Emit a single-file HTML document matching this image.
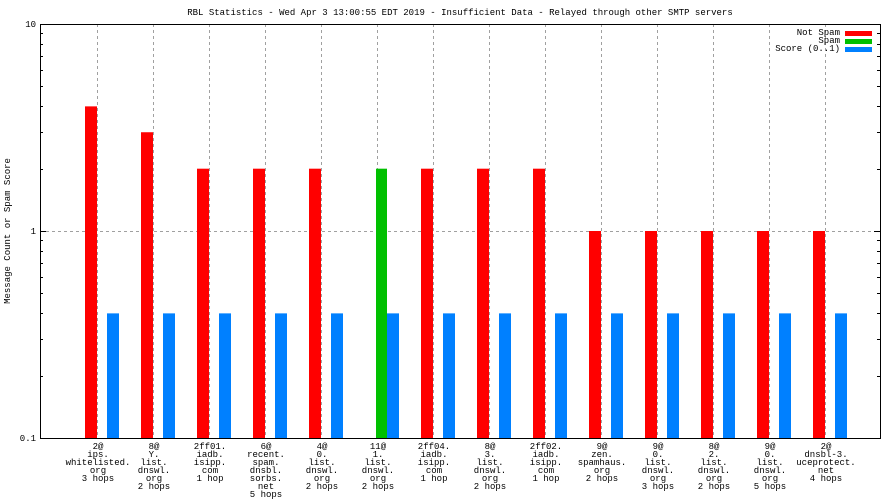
<!DOCTYPE html>
<html><head><meta charset="utf-8"><style>
html,body{margin:0;padding:0;background:#fff;}
svg{display:block;font-family:"Liberation Mono","DejaVu Sans Mono",monospace;}
</style></head><body>
<svg id="chart" width="896" height="504" viewBox="0 0 896 504" xmlns="http://www.w3.org/2000/svg">
<rect width="896" height="504" fill="#fff"/>
<text x="460" y="15" font-size="9" text-anchor="middle">RBL Statistics - Wed Apr  3 13:00:55 EDT 2019 - Insufficient Data - Relayed through other SMTP servers</text>
<text transform="translate(10,231) rotate(-90)" font-size="9" text-anchor="middle">Message Count or Spam Score</text>
<g id="grid"></g><g id="bars"></g><g id="axes"></g><g id="labels"></g>
<g font-size="9" text-anchor="end">
<text x="840" y="35">Not Spam</text>
<rect x="845" y="31" width="27" height="5" fill="#ff0000"/>
<text x="840" y="43">Spam</text>
<rect x="845" y="39" width="27" height="5" fill="#00c000"/>
<text x="840" y="51">Score (0..1)</text>
<rect x="845" y="47" width="27" height="5" fill="#0080ff"/>
</g>
</svg>
<script>
const categories=[["2@","ips.","whitelisted.","org","3 hops"],["8@","Y.","list.","dnswl.","org","2 hops"],["2ff01.","iadb.","isipp.","com","1 hop"],["6@","recent.","spam.","dnsbl.","sorbs.","net","5 hops"],["4@","0.","list.","dnswl.","org","2 hops"],["11@","1.","list.","dnswl.","org","2 hops"],["2ff04.","iadb.","isipp.","com","1 hop"],["8@","3.","list.","dnswl.","org","2 hops"],["2ff02.","iadb.","isipp.","com","1 hop"],["9@","zen.","spamhaus.","org","2 hops"],["9@","0.","list.","dnswl.","org","3 hops"],["8@","2.","list.","dnswl.","org","2 hops"],["9@","0.","list.","dnswl.","org","5 hops"],["2@","dnsbl-3.","uceprotect.","net","4 hops"]];
const notSpam=[4,3,2,2,2,0,2,2,2,1,1,1,1,1];
const spam=[0,0,0,0,0,2,0,0,0,0,0,0,0,0];
const score=[0.4,0.4,0.4,0.4,0.4,0.4,0.4,0.4,0.4,0.4,0.4,0.4,0.4,0.4];
const yTicks=[0.1,1,10];
const yTickLabels=["0.1","1","10"];
const NS="http://www.w3.org/2000/svg";
const L=40,R=880,T=24,B=438;
function y(v){return T+(1-Math.log10(v))*(B-T)/2;}
function xc(i){return 97+i*56;}
function mk(tag,attrs,parent){const e=document.createElementNS(NS,tag);for(const k in attrs)e.setAttribute(k,attrs[k]);parent.appendChild(e);return e;}
const grid=document.getElementById('grid'),bars=document.getElementById('bars'),axes=document.getElementById('axes'),labels=document.getElementById('labels');
categories.forEach((c,i)=>{
 const g=mk('line',{x1:xc(i)+0.5,x2:xc(i)+0.5,y1:T,y2:B,stroke:'#a0a0a0','stroke-dasharray':'3,3'},grid);
 
 
 if(notSpam[i]>0){const r=mk('rect',{x:xc(i)-12,y:y(notSpam[i]),width:12,height:B-y(notSpam[i]),fill:'#ff0000'},bars);
 
 }
 if(spam[i]>0){const r=mk('rect',{x:xc(i)-1,y:y(spam[i]),width:11,height:B-y(spam[i]),fill:'#00c000'},bars);
 
 }
 if(score[i]>0){const r=mk('rect',{x:xc(i)+10,y:y(score[i]),width:12,height:B-y(score[i]),fill:'#0080ff'},bars);
 
 }
 const t=mk('text',{x:xc(i)+1,y:449,'font-size':9,'text-anchor':'middle'},labels);
 
 
 c.forEach((s,k)=>{const ts=mk('tspan',{x:xc(i)+1,dy:k?8:0},t);ts.textContent=s;});
});
yTicks.forEach((v,k)=>{
 if(v!==0.1&&v!==10){const gl=mk('line',{x1:L,x2:R,y1:y(v)+0.5,y2:y(v)+0.5,stroke:'#a0a0a0','stroke-dasharray':'3,3'},grid);
 
 }
 const t=mk('text',{x:L-4,y:y(v)+3,'font-size':9,'text-anchor':'end'},labels);
 
 
 t.textContent=yTickLabels[k];
});
for(let d=0.1;d<9;d*=10){for(let m=1;m<=10;m++){const v=d*m;const len=(m===1||m===10)?6:3;const yy=Math.round(y(v))+0.5;
 mk('line',{x1:L,x2:L+len,y1:yy,y2:yy,stroke:'#000'},axes);
 mk('line',{x1:R-len,x2:R,y1:yy,y2:yy,stroke:'#000'},axes);}}
const fr=mk('rect',{x:L+0.5,y:T+0.5,width:R-L,height:B-T,fill:'none',stroke:'#000'},axes);


</script>
</body></html>
